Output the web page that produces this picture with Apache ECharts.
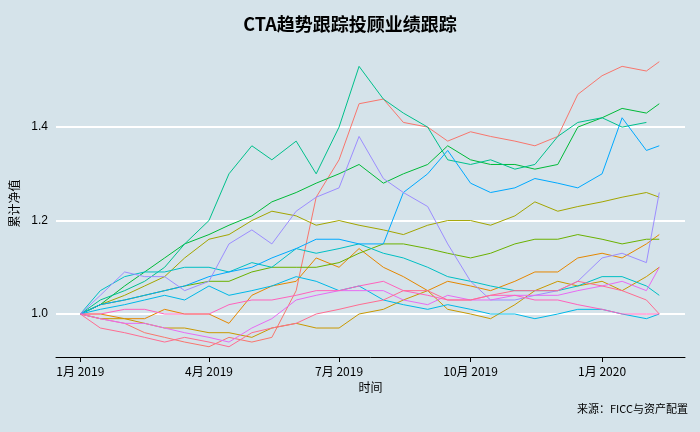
<!DOCTYPE html>
<html><head><meta charset="utf-8">
<script src="https://cdn.jsdelivr.net/npm/echarts@6/dist/echarts.min.js"></script>
<style>html,body{margin:0;padding:0;background:#d5e3ea}#chart{width:700px;height:432px}</style>
</head><body><div id="chart"></div>
<script>
const dates = ["2019-01-01","2019-01-15","2019-02-01","2019-02-15","2019-03-01","2019-03-15","2019-04-01","2019-04-15","2019-05-01","2019-05-15","2019-06-01","2019-06-15","2019-07-01","2019-07-15","2019-08-01","2019-08-15","2019-09-01","2019-09-15","2019-10-01","2019-10-15","2019-11-01","2019-11-15","2019-12-01","2019-12-15","2020-01-01","2020-01-15","2020-02-01","2020-02-10"];
const red = [1.0,0.99,0.98,0.96,0.95,0.94,0.93,0.95,0.94,0.95,1.05,1.25,1.33,1.45,1.46,1.41,1.40,1.37,1.39,1.38,1.37,1.36,1.38,1.47,1.51,1.53,1.52,1.54];
const teal = [1.0,1.03,1.05,1.07,1.10,1.15,1.20,1.30,1.36,1.33,1.37,1.30,1.40,1.53,1.46,1.43,1.40,1.33,1.32,1.33,1.31,1.32,1.38,1.41,1.42,1.40,1.41,null];
const green = [1.0,1.02,1.06,1.09,1.12,1.15,1.17,1.19,1.21,1.24,1.26,1.28,1.30,1.32,1.28,1.30,1.32,1.36,1.33,1.32,1.32,1.31,1.32,1.40,1.42,1.44,1.43,1.45];
const blue = [1.0,1.02,1.03,1.04,1.05,1.06,1.08,1.09,1.10,1.12,1.14,1.16,1.16,1.15,1.15,1.26,1.30,1.35,1.28,1.26,1.27,1.29,1.28,1.27,1.30,1.42,1.35,1.36];
const purple = [1.0,1.04,1.09,1.08,1.08,1.05,1.07,1.15,1.18,1.15,1.22,1.25,1.27,1.38,1.29,1.26,1.23,1.15,1.07,1.03,1.03,1.04,1.05,1.07,1.12,1.13,1.11,1.26];
const olive = [1.0,1.02,1.04,1.06,1.08,1.12,1.16,1.17,1.20,1.22,1.21,1.19,1.20,1.19,1.18,1.17,1.19,1.20,1.20,1.19,1.21,1.24,1.22,1.23,1.24,1.25,1.26,1.25];
const lime = [1.0,1.02,1.03,1.04,1.05,1.06,1.07,1.07,1.09,1.10,1.10,1.10,1.11,1.13,1.15,1.15,1.14,1.13,1.12,1.13,1.15,1.16,1.16,1.17,1.16,1.15,1.16,1.16];
const cyan = [1.0,1.05,1.08,1.09,1.09,1.10,1.10,1.09,1.11,1.10,1.14,1.13,1.14,1.15,1.13,1.12,1.10,1.08,1.07,1.06,1.05,1.05,1.05,1.06,1.08,1.08,1.06,1.04];
const sky = [1.0,1.01,1.02,1.03,1.04,1.03,1.06,1.04,1.05,1.06,1.08,1.07,1.05,1.06,1.03,1.02,1.01,1.02,1.01,1.00,1.00,0.99,1.00,1.01,1.01,1.00,0.99,1.00];
const orange = [1.0,1.00,0.99,0.99,1.01,1.00,1.00,0.98,1.04,1.06,1.07,1.12,1.10,1.14,1.10,1.08,1.05,1.07,1.06,1.05,1.07,1.09,1.09,1.12,1.13,1.12,1.15,1.17];
const gold = [1.0,0.99,0.99,0.98,0.97,0.97,0.96,0.96,0.95,0.97,0.98,0.97,0.97,1.00,1.01,1.03,1.05,1.01,1.00,0.99,1.02,1.05,1.07,1.06,1.07,1.05,1.08,1.10];
const pink = [1.0,0.97,0.96,0.95,0.94,0.95,0.94,0.93,0.96,0.97,0.98,1.00,1.01,1.02,1.03,1.05,1.05,1.03,1.03,1.04,1.05,1.05,1.05,1.07,1.06,1.05,1.03,1.00];
const magenta = [1.0,0.99,0.98,0.98,0.97,0.96,0.95,0.94,0.97,0.99,1.03,1.04,1.05,1.05,1.05,1.03,1.02,1.04,1.03,1.03,1.04,1.04,1.04,1.05,1.06,1.07,1.05,1.10];
const rose = [1.0,1.00,1.01,1.01,1.00,1.00,1.00,1.02,1.03,1.03,1.04,1.05,1.05,1.06,1.07,1.05,1.04,1.03,1.03,1.04,1.04,1.03,1.03,1.02,1.01,1.00,1.00,1.00];
const yTicks = [1.0, 1.2, 1.4];
const xTicks = ["2019-01-01","2019-04-01","2019-07-01","2019-10-01","2020-01-01"];

const seriesList = [
  [red, "#F8766D"], [orange, "#E58700"], [gold, "#C99800"], [olive, "#A3A500"],
  [lime, "#6BB100"], [green, "#00BA38"], [teal, "#00C08B"], [cyan, "#00BFC4"],
  [sky, "#00B8E7"], [blue, "#00A9FF"], [purple, "#9C8DFF"], [magenta, "#E76BF3"],
  [rose, "#FF62BC"], [pink, "#FF6C91"]
];
const ts = d => Date.parse(d + "T00:00:00Z");
const xt = xTicks.map(ts);

const chart = echarts.init(document.getElementById("chart"));
chart.setOption({
  backgroundColor: "#d5e3ea",
  animation: false,
  title: {
    text: "CTA趋势跟踪投顾业绩跟踪", left: "center", top: 10,
    textStyle: { fontSize: 18, fontWeight: "bold", color: "#000", fontFamily: "Noto Sans CJK SC" }
  },
  graphic: [{
    type: "text", right: 12, top: 403,
    style: { text: "来源：FICC与资产配置", fontSize: 11, fill: "#000", fontFamily: "Noto Sans CJK SC" }
  }],
  grid: { left: 55, right: 15, top: 50, bottom: 75 },
  xAxis: {
    type: "value",
    min: ts("2018-12-15"), max: ts("2020-02-28"),
    name: "时间", nameLocation: "middle", nameGap: 24,
    nameTextStyle: { fontSize: 12, color: "#000", fontFamily: "Noto Sans CJK SC" },
    axisLine: { lineStyle: { color: "#000" } },
    axisTick: { customValues: xt, lineStyle: { color: "#000" } },
    axisLabel: {
      customValues: xt, color: "#000", fontSize: 12, fontFamily: "Noto Sans CJK SC",
      formatter: v => { const d = new Date(v); return (d.getUTCMonth() + 1) + "月 " + d.getUTCFullYear(); }
    },
    splitLine: { show: false }
  },
  yAxis: {
    type: "value", min: 0.908, max: 1.565,
    name: "累计净值", nameLocation: "middle", nameGap: 36, nameRotate: 90,
    nameTextStyle: { fontSize: 12, color: "#000", fontFamily: "Noto Sans CJK SC" },
    axisLine: { show: false },
    axisTick: { show: false },
    axisLabel: { customValues: yTicks, color: "#000", fontSize: 12, formatter: v => v.toFixed(1) },
    splitLine: { show: false }
  },
  series: seriesList.map(([vals, color], i) => ({
    type: "line",
    data: dates.map((d, k) => [ts(d), vals[k]]),
    showSymbol: false,
    lineStyle: { width: 1, color: color },
    itemStyle: { color: color },
    z: 3,
    markLine: i === 0 ? {
      silent: true, symbol: "none", label: { show: false },
      lineStyle: { color: "#fff", width: 2, type: "solid" },
      data: yTicks.map(v => ({ yAxis: v })),
      z: 1
    } : undefined
  }))
});
</script></body></html>
